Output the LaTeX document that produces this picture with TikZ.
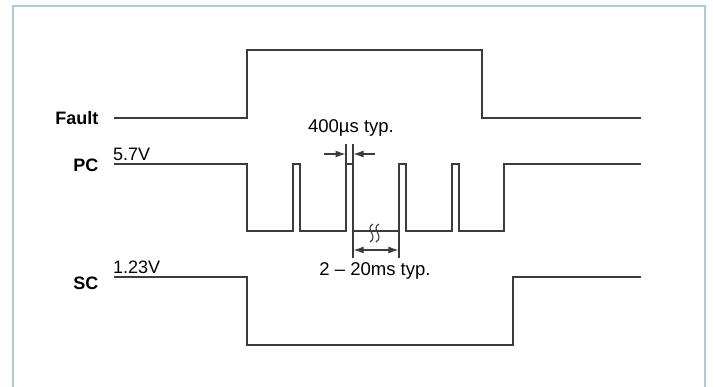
\documentclass[tikz,border=0pt]{standalone}
\usepackage{fontspec}
\setmainfont{Liberation Sans}
\usetikzlibrary{arrows.meta}
\definecolor{wavegray}{HTML}{3C3C3C}
\definecolor{framec}{HTML}{A9CDD9}
\begin{document}
\begin{tikzpicture}[x=1pt,y=-1pt,
  wave/.style={draw=wavegray, line width=1.6pt, line join=miter},
  dim/.style={draw=wavegray, line width=1.1pt},
  arr/.style={dim, -{Latex[length=10pt,width=7pt]}},
  darr/.style={dim, {Latex[length=10pt,width=7pt]}-{Latex[length=10pt,width=7pt]}},
  lab/.style={font=\fontsize{18}{20}\selectfont\bfseries, text=black, inner sep=0pt, anchor=east},
  val/.style={font=\fontsize{18}{20}\selectfont, text=black, inner sep=0pt, anchor=base west},
  note/.style={font=\fontsize{18.5}{20}\selectfont, text=black, inner sep=0pt}]
\useasboundingbox (0,0) rectangle (713,387);
% frame
\draw[framec, line width=2pt] (12.5,390) -- (12.5,6) -- (705,6) -- (705,390);
% labels
\node[lab] (fault) at (98.5,118) {Fault};
\node[lab] (pc) at (98.5,165) {PC};
\node[lab] (sc) at (98.5,283) {SC};
\node[val] (v57) at (113,161) {5.7V};
\node[val] (v123) at (113,274) {1.23V};
% waveforms
\draw[wave] (114,118) -- (247,118) -- (247,50) -- (482,50) -- (482,118) -- (641,118);
\draw[wave] (114,164) -- (247,164) -- (247,231) -- (293,231) -- (293,164) -- (300,164)
  -- (300,231) -- (346,231) -- (346,164) -- (353,164) -- (353,231) -- (399,231)
  -- (399,164) -- (406,164) -- (406,231) -- (452,231) -- (452,164) -- (459,164)
  -- (459,231) -- (504,231) -- (504,164) -- (641,164);
\draw[wave] (114,277) -- (247,277) -- (247,345) -- (513,345) -- (513,277) -- (641,277);
% 400us dimension
\coordinate (t1a) at (346,144); \coordinate (t1b) at (346,164);
\coordinate (t2a) at (353,144); \coordinate (t2b) at (353,164);
\draw[dim] (t1a) -- (t1b);
\draw[dim] (t2a) -- (t2b);
\coordinate (a1s) at (324,154); \coordinate (a1e) at (345.5,154);
\coordinate (a2s) at (375,154); \coordinate (a2e) at (353.5,154);
\draw[arr] (a1s) -- (a1e);
\draw[arr] (a2s) -- (a2e);
\node[note] (n400) at (351,128) {400µs typ.};
% 2-20ms dimension
\coordinate (u1a) at (353,231); \coordinate (u1b) at (353,258);
\coordinate (u2a) at (399,231); \coordinate (u2b) at (399,258);
\draw[dim] (u1a) -- (u1b);
\draw[dim] (u2a) -- (u2b);
\coordinate (d1) at (353.6,250); \coordinate (d2) at (398.4,250);
\draw[darr] (d1) -- (d2);
\node[note] (n220) at (375,271) {2 – 20ms typ.};
% break squiggles
\draw[wavegray, line width=1.1pt] (373,224) .. controls (364,229) and (379,236) .. (370,242);
\draw[wavegray, line width=1.1pt] (379,224) .. controls (370,229) and (385,236) .. (376,242);
\end{tikzpicture}
\end{document}
